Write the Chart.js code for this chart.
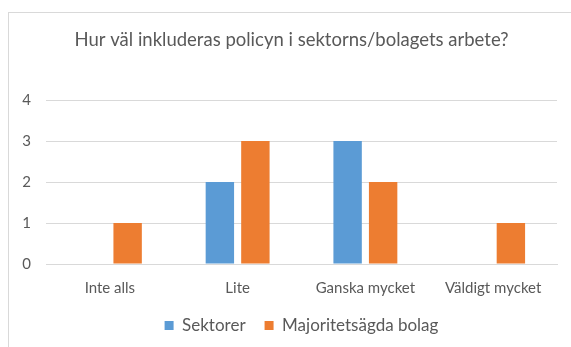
<!DOCTYPE html>
<html>
<head>
<meta charset="utf-8">
<script src="https://cdn.jsdelivr.net/npm/chart.js@4/dist/chart.umd.min.js"></script>
<style>
  html, body { margin: 0; padding: 0; background: #fff; overflow: hidden; }
  body { width: 571px; height: 347px; position: relative; }
  #frame {
    position: absolute; left: 8px; top: 12px; width: 700px; height: 500px;
    border-left: 1px solid #d9d9d9; border-top: 1px solid #d9d9d9;
  }
  #chart { position: absolute; left: 0; top: 0; }
</style>
</head>
<body>
<div id="frame"></div>
<canvas id="chart" width="583" height="347"></canvas>
<script>
const categories = ['Inte alls', 'Lite', 'Ganska mycket', 'Väldigt mycket'];
const sektorer = [0, 2, 3, 0];
const majoritetsagda = [1, 3, 2, 1];
const yTicks = [0, 1, 2, 3, 4];

const textColor = '#595959';
const gridColor = '#d9d9d9';
const fontFamily = 'Lato, "Open Sans", sans-serif';

const ctx = document.getElementById('chart').getContext('2d');
new Chart(ctx, {
  type: 'bar',
  data: {
    labels: categories,
    datasets: [
      { label: 'Sektorer', data: sektorer, backgroundColor: '#5b9bd5' },
      { label: 'Majoritetsägda bolag', data: majoritetsagda, backgroundColor: '#ed7d31' }
    ]
  },
  options: {
    responsive: false,
    animation: false,
    categoryPercentage: 0.556,
    barPercentage: 0.8,
    layout: { padding: { left: 0, right: 0, top: 0, bottom: 3 } },
    plugins: {
      title: {
        display: true,
        text: 'Hur väl inkluderas policyn i sektorns/bolagets arbete?',
        color: textColor,
        font: { family: fontFamily, size: 18.5, weight: 'normal' },
        padding: { top: 29, bottom: 48.8 }
      },
      legend: {
        position: 'bottom',
        fullSize: false, // centre the legend under the plot, not the canvas
        labels: {
          color: textColor,
          font: { family: fontFamily, size: 17 },
          boxWidth: 9,
          boxHeight: 9,
          padding: 19
        }
      },
      tooltip: { enabled: false }
    },
    scales: {
      x: {
        afterFit(s) { s.height = 34; },
        grid: { display: false, drawTicks: false },
        border: { color: gridColor },
        ticks: { color: textColor, font: { family: fontFamily, size: 15 }, padding: 15 }
      },
      y: {
        min: 0,
        max: 4,
        afterBuildTicks(s) { s.ticks = yTicks.map(v => ({ value: v })); },
        afterFit(s) { s.width = 46; },
        grid: { color: gridColor, drawTicks: false },
        border: { display: false },
        ticks: { color: textColor, font: { family: fontFamily, size: 15 }, padding: 15 }
      },
      // empty right-hand gutter so the plot stops short of the canvas edge
      gutter: {
        position: 'right',
        grid: { display: false },
        border: { display: false },
        ticks: { display: false },
        afterFit(s) { s.width = 26; }
      }
    }
  }
});
</script>
</body>
</html>
